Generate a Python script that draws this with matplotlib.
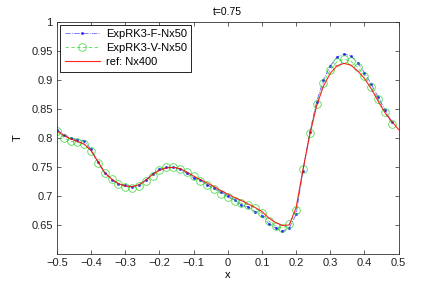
import matplotlib.pyplot as plt
import numpy as np

# coarse grid (Nx50) and reference grid
x_coarse = np.round(np.arange(50) * 0.02 - 0.5, 2)
x_ref = np.round(np.arange(51) * 0.02 - 0.5, 2)

T_F = [0.814, 0.805, 0.799, 0.797, 0.795, 0.780, 0.759, 0.740, 0.728, 0.721,
       0.718, 0.716, 0.718, 0.727, 0.738, 0.746, 0.749, 0.749, 0.746, 0.739,
       0.731, 0.727, 0.719, 0.713, 0.707, 0.700, 0.693, 0.684, 0.681, 0.673,
       0.666, 0.652, 0.645, 0.639, 0.645, 0.668, 0.743, 0.810, 0.862, 0.900,
       0.924, 0.939, 0.944, 0.941, 0.929, 0.912, 0.892, 0.870, 0.848, 0.827]

T_V = [0.811, 0.800, 0.794, 0.792, 0.789, 0.777, 0.757, 0.739, 0.729, 0.720,
       0.716, 0.714, 0.717, 0.726, 0.735, 0.744, 0.749, 0.750, 0.747, 0.741,
       0.734, 0.725, 0.719, 0.712, 0.704, 0.698, 0.692, 0.687, 0.685, 0.679,
       0.670, 0.657, 0.648, 0.644, 0.651, 0.675, 0.746, 0.808, 0.858, 0.895,
       0.917, 0.931, 0.935, 0.932, 0.921, 0.907, 0.887, 0.866, 0.844, 0.824]

T_ref = [0.812, 0.804, 0.798, 0.794, 0.789, 0.778, 0.759, 0.740, 0.729, 0.721,
         0.717, 0.716, 0.719, 0.727, 0.737, 0.744, 0.748, 0.749, 0.747, 0.741,
         0.734, 0.728, 0.722, 0.716, 0.709, 0.703, 0.697, 0.692, 0.686, 0.680,
         0.673, 0.662, 0.654, 0.649, 0.650, 0.680, 0.745, 0.805, 0.855, 0.889,
         0.911, 0.924, 0.928, 0.925, 0.915, 0.902, 0.884, 0.863, 0.843, 0.828,
         0.814]

plt.rcParams['font.family'] = ['Liberation Sans', 'DejaVu Sans']
plt.rcParams['font.size'] = 8

fig = plt.figure(figsize=(4.41, 2.87), dpi=100)
ax = fig.add_axes([0.129, 0.115, 0.775, 0.81])

ax.plot(x_coarse, T_F, color='blue', linestyle='-.', marker='.', markersize=2.5,
        linewidth=0.6, alpha=0.6, label='ExpRK3-F-Nx50')
ax.plot(x_coarse, T_V, color=(0.1, 0.8, 0.1), linestyle='--', marker='o', markersize=5.5,
        markerfacecolor='none', markeredgewidth=0.6, linewidth=0.6, alpha=0.75,
        dashes=(4, 3), label='ExpRK3-V-Nx50')
ax.plot(x_ref, T_ref, color='red', linewidth=0.8, alpha=0.85, label='ref: Nx400')

ax.set_xlim(-0.5, 0.5)
ax.set_ylim(0.6, 1.0)
ax.set_xticks(np.round(np.arange(-0.5, 0.51, 0.1), 1))
ax.set_xticklabels(['\u22120.5', '\u22120.4', '\u22120.3', '\u22120.2', '\u22120.1',
                    '0', '0.1', '0.2', '0.3', '0.4', '0.5'])
ax.set_yticks([0.65, 0.7, 0.75, 0.8, 0.85, 0.9, 0.95, 1.0])
ax.set_yticklabels(['0.65', '0.7', '0.75', '0.8', '0.85', '0.9', '0.95', '1'])
ax.tick_params(direction='in', top=True, right=True, length=3, width=0.5, pad=3,
               colors='#222222')
for s in ax.spines.values():
    s.set_linewidth(0.6)
    s.set_color('#333333')

ax.set_xlabel('x', labelpad=1)
ax.set_ylabel('T', labelpad=6)
ax.set_title('t=0.75', fontsize=7.5, pad=5)

leg = ax.legend(loc='upper left', fancybox=False, edgecolor='black', framealpha=1,
                handlelength=3.2, handletextpad=0.5, numpoints=1, borderaxespad=0.3,
                labelspacing=0.35, borderpad=0.4, fontsize=8)
leg.get_frame().set_linewidth(0.6)

fig.savefig('out.png', dpi=100)
